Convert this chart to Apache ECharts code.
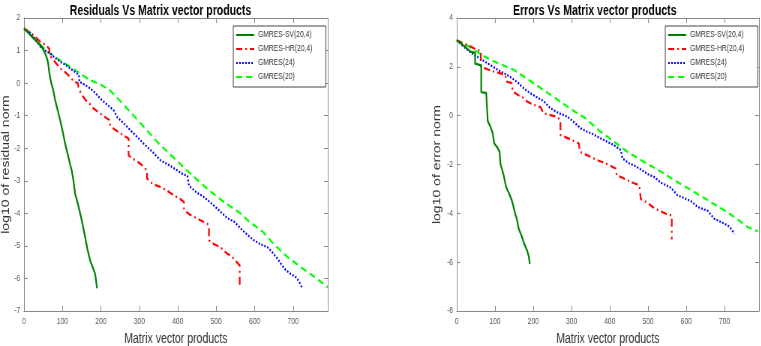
<!DOCTYPE html>
<html>
<head>
<meta charset="utf-8">
<script src="https://cdn.jsdelivr.net/npm/echarts@6/dist/echarts.min.js"></script>
<style>
  html, body { margin: 0; padding: 0; background: #fff; overflow: hidden; }
  /* the reference figure is squeezed sideways, so draw wider and squeeze */
  #main { width: 1014.67px; height: 346px; transform: scaleX(0.75); transform-origin: 0 0; }
</style>
</head>
<body>
<div id="main"></div>
<script>
// series names
const names = ['GMRES-SV(20,4)', 'GMRES-HR(20,4)', 'GMRES(24)', 'GMRES(20)']

// left: log10 residual norm vs matrix vector products, [mvp, log10]
const resSV = [[0,1.68],[15,1.5],[29,1.32],[40,1.2],[46,1.12],[55,0.91],[60,0.75],[63,0.6],[66,0.3],[70,0.05],[76,-0.22],[81,-0.52],[88,-0.85],[94,-1.14],[100,-1.45],[107,-1.86],[113,-2.15],[120,-2.5],[124,-2.68],[128,-2.95],[133,-3.4],[140,-3.7],[150,-4.2],[159,-4.73],[165,-5.1],[172,-5.45],[180,-5.7],[185,-5.86],[190,-6.3]]
const resHR = [[0,1.68],[12,1.58],[24,1.48],[33,1.38],[42,1.27],[50,1.22],[55,1.17],[62,1.1],[66,1.05],[66,0.86],[70,0.8],[80,0.66],[94,0.45],[108,0.33],[120,0.19],[129,0.06],[140,0.0],[142,-0.16],[150,-0.35],[160,-0.52],[172,-0.65],[181,-0.78],[190,-0.86],[200,-0.95],[216,-1.09],[224,-1.14],[224,-1.29],[235,-1.42],[246,-1.5],[258,-1.6],[272,-1.7],[272,-2.22],[280,-2.3],[290,-2.37],[305,-2.5],[320,-2.68],[320,-2.93],[335,-3.1],[355,-3.19],[372,-3.3],[390,-3.45],[405,-3.55],[416,-3.65],[416,-3.9],[430,-4.03],[442,-4.11],[460,-4.22],[477,-4.32],[481,-4.4],[481,-4.83],[495,-4.95],[511,-5.04],[520,-5.15],[529,-5.24],[540,-5.32],[555,-5.52],[561,-5.6],[561,-6.27]]
const res24 = [[0,1.68],[16,1.55],[30,1.35],[42,1.12],[55,1.0],[68,0.91],[80,0.78],[94,0.66],[108,0.56],[120,0.45],[132,0.35],[143,0.25],[144,0.04],[158,-0.05],[172,-0.16],[185,-0.3],[198,-0.47],[215,-0.65],[233,-0.83],[242,-1.04],[258,-1.22],[277,-1.45],[295,-1.66],[311,-1.86],[333,-2.1],[355,-2.37],[383,-2.56],[411,-2.78],[425,-2.85],[429,-3.15],[448,-3.35],[468,-3.5],[485,-3.67],[503,-3.86],[529,-4.15],[546,-4.25],[564,-4.47],[580,-4.65],[598,-4.83],[615,-4.95],[633,-5.04],[646,-5.2],[659,-5.39],[677,-5.7],[692,-5.85],[707,-5.96],[716,-6.1],[724,-6.32]]
const res20 = [[0,1.68],[20,1.45],[40,1.2],[68,0.91],[100,0.65],[120,0.5],[146,0.3],[170,0.1],[200,-0.05],[224,-0.22],[250,-0.55],[285,-1.0],[320,-1.45],[350,-1.85],[390,-2.3],[430,-2.75],[477,-3.25],[520,-3.65],[564,-4.01],[585,-4.25],[620,-4.55],[650,-4.95],[685,-5.34],[720,-5.65],[755,-5.95],[790,-6.27]]

// right: log10 error norm vs matrix vector products
const errSV = [[0,3.09],[20,2.85],[35,2.63],[48,2.57],[48,2.13],[64,2.06],[64,0.96],[77,0.93],[80,0.85],[81,-0.22],[88,-0.45],[94,-0.72],[98,-1.14],[106,-1.3],[112,-1.48],[114,-1.96],[122,-2.4],[129,-2.92],[137,-3.2],[144,-3.47],[153,-4.02],[158,-4.3],[162,-4.63],[170,-4.95],[175,-5.19],[184,-5.53],[188,-5.75],[191,-6.07]]
const errHR = [[0,3.09],[15,2.97],[35,2.84],[52,2.7],[63,2.65],[63,2.02],[80,1.9],[96,1.81],[112,1.74],[127,1.67],[129,1.4],[144,1.33],[146,0.99],[160,0.85],[175,0.72],[184,0.58],[200,0.45],[219,0.35],[227,0.1],[250,0.0],[262,-0.05],[271,-0.18],[271,-0.79],[290,-0.92],[305,-1.03],[319,-1.14],[322,-1.48],[345,-1.65],[367,-1.82],[390,-1.96],[415,-2.16],[418,-2.44],[430,-2.52],[446,-2.65],[462,-2.76],[477,-2.85],[481,-3.42],[497,-3.55],[512,-3.74],[530,-3.9],[547,-4.02],[562,-4.09],[562,-5.07]]
const err24 = [[0,3.09],[20,2.8],[44,2.5],[60,2.35],[79,2.16],[95,2.0],[114,1.81],[130,1.68],[144,1.54],[160,1.35],[175,1.12],[192,0.92],[210,0.75],[227,0.6],[245,0.3],[265,0.12],[289,-0.04],[305,-0.25],[324,-0.52],[340,-0.65],[355,-0.75],[376,-0.93],[395,-1.08],[411,-1.21],[429,-1.41],[433,-1.75],[450,-1.95],[465,-2.05],[481,-2.2],[500,-2.4],[516,-2.51],[534,-2.75],[560,-2.95],[577,-3.26],[595,-3.38],[612,-3.5],[630,-3.74],[656,-3.9],[673,-4.22],[690,-4.35],[709,-4.5],[718,-4.65],[726,-4.84]]
const err20 = [[0,3.09],[30,2.85],[60,2.55],[87,2.29],[115,2.1],[149,1.88],[185,1.5],[219,1.13],[255,0.75],[289,0.37],[315,0.1],[337,-0.11],[376,-0.66],[410,-1.05],[446,-1.48],[490,-1.9],[534,-2.3],[580,-2.75],[621,-3.13],[660,-3.5],[700,-3.88],[730,-4.2],[761,-4.57],[787,-4.74]]

const FONT = '"Liberation Sans", Arial, sans-serif'
const FRAME = '#888'
const LABEL = '#555'

const styles = [
    { color: '#008000', type: 'solid' },
    { color: '#ff0000', type: [8, 4, 2, 4] },
    { color: '#0000ff', type: [2, 2] },
    { color: '#00ff00', type: [8, 5] }
]

// sizes below are in the unsqueezed box (x / 0.75)
const grids = [
    { left: 32, top: 18, width: 405, height: 293, outerBoundsMode: 'none', containLabel: false },
    { left: 609, top: 18, width: 403, height: 293, outerBoundsMode: 'none', containLabel: false }
]

function xAxes(gi) {
    const base = {
        gridIndex: gi, type: 'value', min: 0, max: 790, interval: 100,
        splitLine: { show: false },
        axisLine: { onZero: false, lineStyle: { color: FRAME } },
        axisTick: { inside: true, length: 5, lineStyle: { color: FRAME } }
    }
    return [
        Object.assign({}, base, {
            position: 'bottom',
            name: 'Matrix vector products', nameLocation: 'middle', nameGap: 21,
            nameTextStyle: { fontFamily: FONT, fontSize: 14, color: '#333' },
            axisLabel: {
                fontFamily: FONT, fontSize: 9, color: LABEL, margin: 6,
                formatter: v => (v % 100 === 0 ? String(v) : '')
            }
        }),
        Object.assign({}, base, { position: 'top', axisLabel: { show: false } })
    ]
}

function yAxes(gi, min, max, step, title) {
    const base = {
        gridIndex: gi, type: 'value', min: min, max: max, interval: step,
        splitLine: { show: false },
        axisLine: { show: true, onZero: false, lineStyle: { color: FRAME } },
        axisTick: { show: true, inside: true, length: 5, lineStyle: { color: FRAME } }
    }
    return [
        Object.assign({}, base, {
            position: 'left',
            name: title, nameLocation: 'middle', nameGap: gi === 0 ? 15 : 19,
            nameTextStyle: { fontFamily: FONT, fontSize: 14, color: '#333' },
            axisLabel: { fontFamily: FONT, fontSize: 9, color: LABEL, margin: 5 }
        }),
        Object.assign({}, base, { position: 'right', axisLabel: { show: false } })
    ]
}

function lines(gi, sets) {
    return sets.map((d, i) => ({
        name: names[i], type: 'line', data: d,
        xAxisIndex: gi * 2, yAxisIndex: gi * 2,
        symbol: 'none', animation: false, z: 10 - i,
        lineStyle: { width: 2.2, color: styles[i].color, type: styles[i].type },
        itemStyle: { color: styles[i].color }
    }))
}

function legend(left) {
    return {
        orient: 'vertical', left: left, top: 26,
        data: names,
        itemWidth: 24, itemHeight: 10, itemGap: 4,
        padding: [4, 18, 5, 3],
        itemStyle: { opacity: 0 },
        borderColor: '#444', borderWidth: 1, backgroundColor: '#fff',
        textStyle: { fontFamily: FONT, fontSize: 9, color: '#333', lineHeight: 10 }
    }
}

const chart = echarts.init(document.getElementById('main'), null, { renderer: 'canvas' })
chart.setOption({
    animation: false,
    title: [
        { text: 'Residuals Vs Matrix vector products', left: 209, top: -1, textAlign: 'center',
          textStyle: { fontFamily: FONT, fontSize: 14, fontWeight: 'bold', color: '#000' } },
        { text: 'Errors Vs Matrix vector products', left: 788, top: -1, textAlign: 'center',
          textStyle: { fontFamily: FONT, fontSize: 14, fontWeight: 'bold', color: '#000' } }
    ],
    legend: [legend(311), legend(887)],
    grid: grids,
    xAxis: xAxes(0).concat(xAxes(1)),
    yAxis: yAxes(0, -7, 2, 1, 'log10 of residual norm').concat(yAxes(1, -8, 4, 2, 'log10 of error norm')),
    series: lines(0, [resSV, resHR, res24, res20]).concat(lines(1, [errSV, errHR, err24, err20]))
})

window.addEventListener('resize', () => chart && chart.resize())
</script>
</body>
</html>
